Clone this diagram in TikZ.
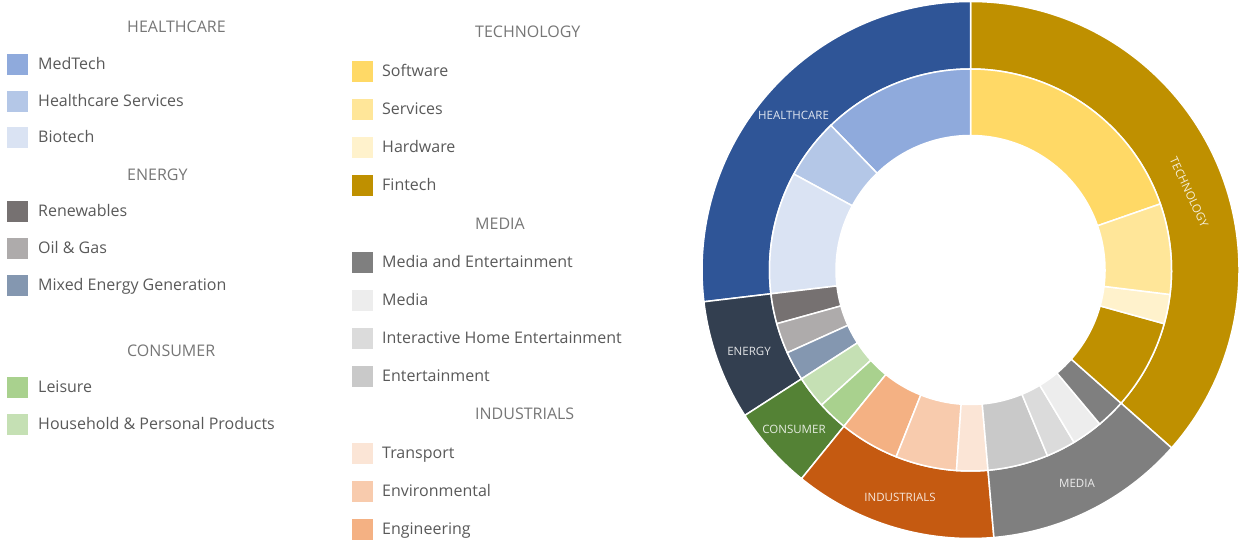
\documentclass[tikz,border=0pt]{standalone}
\usepackage{fontspec}
\setmainfont{Open Sans}
\usepackage{tikz}

\definecolor{hcdark}{HTML}{2F5597}
\definecolor{medtech}{HTML}{8FAADC}
\definecolor{hcserv}{HTML}{B4C7E7}
\definecolor{biotech}{HTML}{DAE3F3}
\definecolor{endark}{HTML}{333F50}
\definecolor{renew}{HTML}{767171}
\definecolor{oilgas}{HTML}{AEABAB}
\definecolor{mixedgen}{HTML}{8497B0}
\definecolor{condark}{HTML}{548235}
\definecolor{leisure}{HTML}{A9D18E}
\definecolor{household}{HTML}{C5E0B4}
\definecolor{inddark}{HTML}{C55A11}
\definecolor{engin}{HTML}{F4B183}
\definecolor{environ}{HTML}{F8CBAD}
\definecolor{transport}{HTML}{FBE5D6}
\definecolor{meddark}{HTML}{7F7F7F}
\definecolor{medent}{HTML}{7F7F7F}
\definecolor{mediaseg}{HTML}{EDEDED}
\definecolor{ihe}{HTML}{DBDBDB}
\definecolor{entert}{HTML}{C9C9C9}
\definecolor{techdark}{HTML}{BF9000}
\definecolor{fintech}{HTML}{BF9000}
\definecolor{hardware}{HTML}{FFF2CC}
\definecolor{services}{HTML}{FFE699}
\definecolor{software}{HTML}{FFD966}
\definecolor{txtgray}{HTML}{595959}
\definecolor{headgray}{HTML}{767676}

\newcommand\legfont{\fontsize{16}{19}\selectfont}
\newcommand\ringfont{\fontsize{11.5}{13}\selectfont}

\tikzset{
  legkey/.style={minimum size=21pt,inner sep=0pt},
  legtext/.style={anchor=mid west,yshift=-1.4pt,inner sep=0pt,text=txtgray,font=\legfont},
  leghead/.style={anchor=mid west,yshift=-1.4pt,inner sep=0pt,text=headgray,font=\legfont},
  ringlabel/.style={text=white,text opacity=0.85,font=\ringfont,inner sep=0pt},
  slice/.style={draw=white,line width=1.5pt}
}

\begin{document}
\begin{tikzpicture}[x=1pt,y=1pt]
      \useasboundingbox (0,0) rectangle (1241,545);
      % legend, left column
      \node[leghead] (hhc) at (127,516.5) {HEALTHCARE};
      \node[leghead] (hen) at (127,369) {ENERGY};
      \node[leghead] (hco) at (127,192.5) {CONSUMER};
      \foreach \n/\y/\c/\t in {kmt/480/medtech/MedTech,khs/443/hcserv/Healthcare Services,kbt/407/biotech/Biotech,
          krn/333/renew/Renewables,kog/296/oilgas/Oil \& Gas,kmx/259/mixedgen/Mixed Energy Generation,
          kls/157/leisure/Leisure,khh/120/household/Household \& Personal Products}
      {
        \node[legkey,fill=\c] (\n) at (17.5,\y) {};
        \node[legtext] (\n-t) at (38,\y) {\t};
      }
      % legend, right column
      \node[leghead] (hte) at (475,511.5) {TECHNOLOGY};
      \node[leghead] (hme) at (475,319.5) {MEDIA};
      \node[leghead] (hin) at (475,129.5) {INDUSTRIALS};
      \foreach \n/\y/\c/\t in {ksw/473/software/Software,ksv/435/services/Services,khw/397/hardware/Hardware,kft/359/fintech/Fintech,
          kme/282/medent/Media and Entertainment,kmd/244/mediaseg/Media,kih/206/ihe/Interactive Home Entertainment,ket/168/entert/Entertainment,
          ktr/91/transport/Transport,kev/53/environ/Environmental,ken/15/engin/Engineering}
      {
        \node[legkey,fill=\c] (\n) at (362,\y) {};
        \node[legtext] (\n-t) at (382,\y) {\t};
      }
      % donut
      \begin{scope}[shift={(970.5,275)}]
        \foreach \a/\b/\c in {-41.5/90/techdark,90/186.8/hcdark,186.8/212.8/endark,212.8/231/condark,231/275/inddark,275/318.5/meddark}
          \filldraw[slice,fill=\c] (\a:201pt) arc[start angle=\a,end angle=\b,radius=201pt] -- (\b:268.5pt) arc[start angle=\b,end angle=\a,radius=268.5pt] -- cycle;
        \foreach \a/\b/\c in {19.2/90/software,90/134/medtech,134/151.5/hcserv,151.5/186.8/biotech,
            186.8/195.5/renew,195.5/204.3/oilgas,204.3/212.8/mixedgen,212.8/222.2/household,222.2/231/leisure,
            231/248.3/engin,248.3/266/environ,266/275/transport,275/292.5/entert,292.5/301/ihe,301/310/mediaseg,310/318.5/medent,
            318.5/344.5/fintech,344.5/353/hardware,353/379.2/services}
          \filldraw[slice,fill=\c] (\a:134.5pt) arc[start angle=\a,end angle=\b,radius=134.5pt] -- (\b:201pt) arc[start angle=\b,end angle=\a,radius=201pt] -- cycle;
      \end{scope}
      \node[ringlabel] (rhc) at (793.5,430) {HEALTHCARE};
      \node[ringlabel] (ren) at (749,194) {ENERGY};
      \node[ringlabel] (rco) at (794,116) {CONSUMER};
      \node[ringlabel] (rin) at (900,48) {INDUSTRIALS};
      \node[ringlabel] (rme) at (1077,62) {MEDIA};
      \node[ringlabel,rotate=-65] (rte) at (1189,353) {TECHNOLOGY};
    \end{tikzpicture}
\end{document}
